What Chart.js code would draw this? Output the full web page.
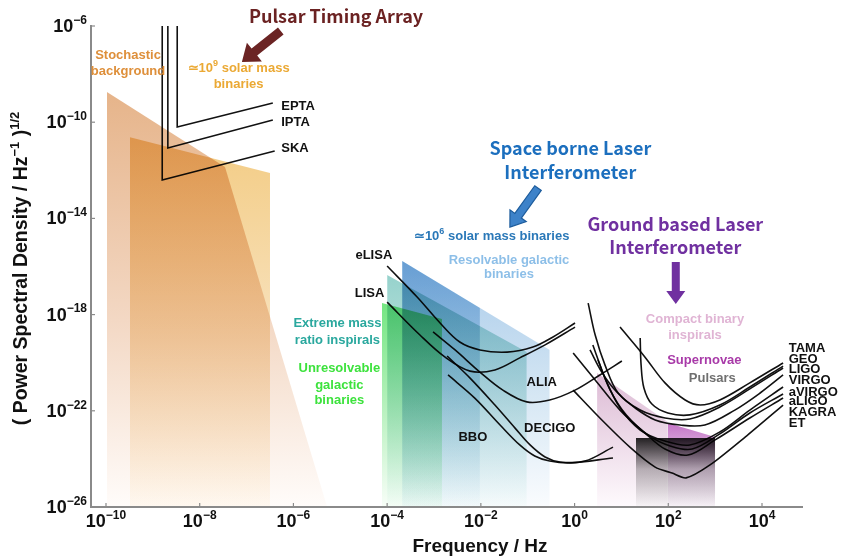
<!DOCTYPE html>
<html>
<head>
<meta charset="utf-8">
<script src="https://cdn.jsdelivr.net/npm/chart.js@4.4.1/dist/chart.umd.min.js"></script>
<style>
html, body { margin: 0; padding: 0; background: #fff; }
canvas { display: block; }
</style>
</head>
<body>
<canvas id="gw" width="841" height="558"></canvas>
<script>
// all points are [log10 frequency (Hz), log10 amplitude spectral density]

// pulsar timing arrays
const epta = [[-8.48, -6], [-8.48, -10.20], [-6.44, -9.20]];
const ipta = [[-8.68, -6], [-8.68, -11.07], [-6.44, -9.91]];
const ska = [[-8.80, -6], [-8.80, -12.40], [-6.40, -11.20]];

// space borne detectors
const elisa = [[-4.00, -15.98], [-3.36, -17.27], [-2.87, -18.35], [-2.45, -19.14], [-2.02, -19.47], [-1.44, -19.56], [-0.89, -19.35], [-0.46, -18.93], [0.01, -18.35]];
const lisa = [[-4.00, -17.48], [-3.30, -18.85], [-2.77, -19.76], [-2.23, -20.35], [-1.70, -20.30], [-1.17, -19.80], [-0.63, -19.26], [0.01, -18.52]];
const alia = [[-3.02, -18.72], [-2.55, -19.47], [-2.02, -20.39], [-1.53, -21.14], [-1.02, -21.63], [-0.53, -21.55], [0.01, -21.14], [0.54, -20.51], [1.01, -19.93]];
const decigo = [[-2.72, -19.72], [-2.23, -20.64], [-1.70, -21.76], [-1.27, -22.72], [-0.95, -23.42], [-0.63, -23.92], [-0.31, -24.13], [0.22, -24.09], [0.82, -23.51]];
const bbo = [[-2.70, -20.51], [-2.13, -21.47], [-1.59, -22.59], [-1.17, -23.42], [-0.85, -23.88], [-0.53, -24.09], [-0.10, -24.17], [0.82, -23.96]];

// ground based detectors
const tama = [[0.97, -18.52], [1.50, -19.76], [1.93, -20.84], [2.36, -21.55], [2.68, -21.76], [3.10, -21.55], [3.74, -20.84], [4.45, -20.01]];
const geo = [[1.40, -18.97], [1.42, -20.10], [1.48, -21.05], [1.65, -21.72], [1.99, -22.09], [2.46, -22.17], [3.10, -21.76], [3.74, -21.01], [4.45, -20.14]];
const ligo = [[0.29, -17.52], [0.44, -18.85], [0.65, -20.10], [0.93, -21.26], [1.40, -21.97], [1.93, -22.30], [2.46, -22.34], [3.10, -21.84], [3.74, -21.09], [4.45, -20.22]];
const virgo = [[0.33, -19.47], [0.58, -20.39], [0.90, -21.22], [1.29, -21.88], [1.72, -22.38], [2.25, -22.59], [2.78, -22.59], [3.42, -21.97], [3.96, -21.26], [4.45, -20.51]];
const avirgo = [[0.39, -19.26], [0.65, -20.64], [0.97, -21.88], [1.40, -22.80], [1.93, -23.26], [2.46, -23.42], [3.10, -22.88], [3.74, -21.97], [4.45, -21.01]];
const aligo = [[0.50, -19.89], [0.76, -21.14], [1.10, -22.17], [1.57, -23.01], [2.04, -23.46], [2.51, -23.59], [3.10, -22.96], [3.74, -22.09], [4.45, -21.30]];
const kagra = [[-0.03, -19.60], [0.44, -20.72], [0.97, -21.97], [1.50, -22.92], [1.93, -23.59], [2.42, -23.84], [3.00, -23.21], [3.74, -22.30], [4.45, -21.47]];
const et = [[-0.03, -21.14], [0.54, -22.30], [1.18, -23.51], [1.72, -24.34], [2.08, -24.59], [2.38, -24.79], [2.89, -24.25], [3.64, -23.09], [4.45, -21.76]];

// source regions (upper edge, filled down to the axis)
const stochasticBg = [[-9.98, -8.74], [-7.46, -11.86], [-5.28, -26]];
const smbhPta = [[-9.49, -10.62], [-6.50, -12.11]];
const galacticResolvable = [[-3.68, -15.77], [-0.53, -19.47]];
const smbhSpace = [[-3.68, -15.77], [-2.02, -17.73]];
const emri = [[-4.00, -16.35], [-1.02, -19.56]];
const galacticUnresolvable = [[-4.11, -17.52], [-2.83, -18.18]];
const compactInspirals = [[0.48, -20.43], [1.99, -22.47]];
const supernovae = [[1.99, -22.51], [3.00, -23.09]];
const pulsars = [[1.31, -23.13], [3.00, -23.13]];

const xTickExps = [-10, -8, -6, -4, -2, 0, 2, 4];
const yTickExps = [-6, -10, -14, -18, -22, -26];

const groundNames = ['TAMA', 'GEO', 'LIGO', 'VIRGO', 'aVIRGO', 'aLIGO', 'KAGRA', 'ET'];
const groundNameLevels = [-19.39, -19.85, -20.30, -20.72, -21.22, -21.63, -22.05, -22.51];

// text, log f, log h, style, colour, alignment
const notes = [
  ['Pulsar Timing Array', -5.09, -5.58, 'head', '#6b2222', 'center'],
  ['Stochastic', -9.53, -7.21, 'tag', '#de8f3a', 'center'],
  ['background', -9.53, -7.87, 'tag', '#de8f3a', 'center'],
  ['\u224310^{9} solar mass', -7.17, -7.75, 'tag', '#eba934', 'center'],
  ['binaries', -7.17, -8.41, 'tag', '#eba934', 'center'],
  ['EPTA', -6.26, -9.33, 'det', '#111', 'left'],
  ['IPTA', -6.26, -9.99, 'det', '#111', 'left'],
  ['SKA', -6.26, -11.11, 'det', '#111', 'left'],
  ['Space borne Laser', -0.09, -11.07, 'head', '#1c6fbe', 'center'],
  ['Interferometer', -0.09, -12.07, 'head', '#1c6fbe', 'center'],
  ['\u224310^{6} solar mass binaries', -1.77, -14.73, 'tag', '#2a78b8', 'center'],
  ['Resolvable galactic', -1.40, -15.73, 'tag', '#8dbfe8', 'center'],
  ['binaries', -1.40, -16.35, 'tag', '#8dbfe8', 'center'],
  ['Ground based Laser', 2.15, -14.23, 'head', '#7030a0', 'center'],
  ['Interferometer', 2.15, -15.19, 'head', '#7030a0', 'center'],
  ['Compact binary', 2.57, -18.22, 'tag', '#e0b4d4', 'center'],
  ['inspirals', 2.57, -18.85, 'tag', '#e0b4d4', 'center'],
  ['Supernovae', 2.77, -19.89, 'tag', '#a83aa8', 'center'],
  ['Pulsars', 2.94, -20.64, 'tag', '#707070', 'center'],
  ['eLISA', -3.89, -15.56, 'det', '#111', 'right'],
  ['LISA', -4.06, -17.10, 'det', '#111', 'right'],
  ['Extreme mass', -5.06, -18.35, 'tag', '#2aa89e', 'center'],
  ['ratio inspirals', -5.06, -19.06, 'tag', '#2aa89e', 'center'],
  ['Unresolvable', -5.02, -20.22, 'tag', '#3de23d', 'center'],
  ['galactic', -5.02, -20.93, 'tag', '#3de23d', 'center'],
  ['binaries', -5.02, -21.55, 'tag', '#3de23d', 'center'],
  ['ALIA', -0.70, -20.80, 'det', '#111', 'center'],
  ['DECIGO', -0.53, -22.72, 'det', '#111', 'center'],
  ['BBO', -2.17, -23.09, 'det', '#111', 'center'],
];
groundNames.forEach((n, i) => notes.push([n, 4.57, groundNameLevels[i], 'det', '#111', 'left']));

const arrows = [
  { from: [-6.27, -6.21], to: [-7.10, -7.50], w: 9, head: 24, len: 16, fill: '#6b2424' },
  { from: [-0.78, -12.74], to: [-1.38, -14.36], w: 8, head: 20, len: 14, fill: '#3d82c9', line: '#1d5c9c' },
  { from: [2.16, -15.81], to: [2.16, -17.56], w: 8, head: 19, len: 13, fill: '#7030a0' },
];

const fonts = {
  head: { size: 18, family: '"Noto Sans CJK KR", "Noto Sans", sans-serif' },
  tag: { size: 13, family: '"Liberation Sans", Arial, sans-serif' },
  det: { size: 13, family: '"Liberation Sans", Arial, sans-serif' },
  axis: { size: 18, family: '"Liberation Sans", Arial, sans-serif' },
};

const P = a => a.map(([f, h]) => ({ x: 10 ** f, y: 10 ** h }));

// fill from the region's upper edge, fading towards the axis
function shade(pts, top, mid, bottom, midAt = 0.55) {
  return {
    data: P(pts), fill: 'start', borderWidth: 0, pointRadius: 0, tension: 0,
    backgroundColor(c) {
      const chart = c.chart, area = chart.chartArea;
      if (!area) return top;
      const y0 = chart.scales.y.getPixelForValue(10 ** Math.max(...pts.map(p => p[1])));
      const g = chart.ctx.createLinearGradient(0, y0, 0, area.bottom);
      g.addColorStop(0, top);
      g.addColorStop(midAt, mid);
      g.addColorStop(1, bottom);
      return g;
    }
  };
}

function curve(pts, tension = 0.35) {
  return { data: P(pts), fill: false, borderColor: '#111', borderWidth: 1.6, pointRadius: 0, tension };
}

// text with ^{...} superscripts
function rich(ctx, str, x, y, align, font, color) {
  const parts = str.split(/\^\{([^}]*)\}/);
  const big = `bold ${font.size}px ${font.family}`;
  const small = `bold ${Math.round(font.size * 0.68)}px ${font.family}`;
  let w = 0;
  const ws = parts.map((p, i) => {
    ctx.font = i % 2 ? small : big;
    const m = ctx.measureText(p).width;
    w += m;
    return m;
  });
  let cx = align === 'center' ? x - w / 2 : align === 'right' ? x - w : x;
  ctx.fillStyle = color;
  ctx.textAlign = 'left';
  ctx.textBaseline = 'middle';
  parts.forEach((p, i) => {
    ctx.font = i % 2 ? small : big;
    ctx.fillText(p, cx, i % 2 ? y - font.size * 0.36 : y);
    cx += ws[i];
  });
}

function arrow(ctx, x0, y0, x1, y1, a) {
  const ang = Math.atan2(y1 - y0, x1 - x0), len = Math.hypot(x1 - x0, y1 - y0);
  ctx.save();
  ctx.translate(x0, y0);
  ctx.rotate(ang);
  ctx.beginPath();
  ctx.moveTo(0, -a.w / 2);
  ctx.lineTo(len - a.len, -a.w / 2);
  ctx.lineTo(len - a.len, -a.head / 2);
  ctx.lineTo(len, 0);
  ctx.lineTo(len - a.len, a.head / 2);
  ctx.lineTo(len - a.len, a.w / 2);
  ctx.lineTo(0, a.w / 2);
  ctx.closePath();
  ctx.fillStyle = a.fill;
  ctx.fill();
  if (a.line) {
    ctx.strokeStyle = a.line;
    ctx.lineWidth = 1.2;
    ctx.stroke();
  }
  ctx.restore();
}

const expText = e => '10^{' + (e < 0 ? '\u2212' + (-e) : e) + '}';

const decorations = {
  id: 'decorations',
  // overlapping source regions darken each other like layered inks
  beforeDatasetsDraw(chart) {
    chart.ctx.save();
    chart.ctx.globalCompositeOperation = 'multiply';
  },
  afterDatasetsDraw(chart) {
    chart.ctx.restore();
  },
  afterDraw(chart) {
    const { ctx, chartArea: a, scales } = chart;
    const px = f => scales.x.getPixelForValue(10 ** f);
    const py = h => scales.y.getPixelForValue(10 ** h);
    ctx.save();

    // axes with inward ticks
    ctx.strokeStyle = '#8a8a8a';
    ctx.lineWidth = 2;
    ctx.beginPath();
    ctx.moveTo(a.left, a.top - 1);
    ctx.lineTo(a.left, a.bottom);
    ctx.lineTo(a.right, a.bottom);
    ctx.stroke();
    ctx.lineWidth = 1.2;
    xTickExps.forEach(e => {
      const X = px(e);
      ctx.beginPath();
      ctx.moveTo(X, a.bottom);
      ctx.lineTo(X, a.bottom - 4);
      ctx.stroke();
      rich(ctx, expText(e), X, a.bottom + 15, 'center', fonts.axis, '#111');
    });
    yTickExps.forEach(e => {
      const Y = py(e);
      ctx.strokeStyle = '#8a8a8a';
      ctx.beginPath();
      ctx.moveTo(a.left, Y);
      ctx.lineTo(a.left + 4, Y);
      ctx.stroke();
      rich(ctx, expText(e), a.left - 4, Y + 1, 'right', fonts.axis, '#111');
    });

    // axis titles
    rich(ctx, 'Frequency / Hz', (a.left + a.right) / 2 + 33, a.bottom + 40, 'center', { size: 19, family: fonts.axis.family }, '#111');
    ctx.save();
    ctx.translate(22, (a.top + a.bottom) / 2 + 2);
    ctx.rotate(-Math.PI / 2);
    rich(ctx, '( Power Spectral Density / Hz^{\u22121} )^{1/2}', 0, 0, 'center', { size: 19.5, family: fonts.axis.family }, '#111');
    ctx.restore();

    arrows.forEach(ar => arrow(ctx, px(ar.from[0]), py(ar.from[1]), px(ar.to[0]), py(ar.to[1]), ar));
    notes.forEach(([t, f, h, style, color, align]) => rich(ctx, t, px(f), py(h), align, fonts[style], color));
    ctx.restore();
  }
};

new Chart(document.getElementById('gw'), {
  type: 'line',
  data: {
    datasets: [
      curve(epta, 0), curve(ipta, 0), curve(ska, 0),
      curve(elisa), curve(lisa), curve(alia), curve(decigo), curve(bbo),
      curve(tama), curve(geo), curve(ligo), curve(virgo), curve(avirgo), curve(aligo), curve(kagra), curve(et, 0.25),
      shade(stochasticBg, '#e6b48a', '#f3d8c4', '#fffcfa'),
      shade(smbhPta, '#f3cc84', '#f8e2be', '#fffbf5'),
      shade(galacticResolvable, '#a9cbea', '#d6e7f4', '#fafcfe'),
      shade(smbhSpace, '#9cc6e6', '#d4e7f3', '#fbfdfe'),
      shade(emri, '#96d2cc', '#cde9e6', '#fbfefd'),
      shade(galacticUnresolvable, '#74e682', '#bcf2c2', '#f8fef8'),
      shade(compactInspirals, '#dcbad4', '#efdeeb', '#fefafd'),
      shade(supernovae, '#c474c6', '#ead2ea', '#fdf8fd', 0.5),
      shade(pulsars, '#262626', '#bdbdbd', '#fafafa', 0.45),
    ]
  },
  options: {
    responsive: false,
    devicePixelRatio: 1,
    animation: false,
    layout: { padding: { left: 91, right: 38, top: 26, bottom: 51 } },
    plugins: { legend: { display: false }, tooltip: { enabled: false } },
    scales: {
      x: { type: 'logarithmic', bounds: 'data', min: 10 ** -10.32, max: 10 ** 4.875, display: false },
      y: { type: 'logarithmic', bounds: 'data', min: 1e-26, max: 1e-6, display: false }
    }
  },
  plugins: [decorations]
});
</script>
</body>
</html>
